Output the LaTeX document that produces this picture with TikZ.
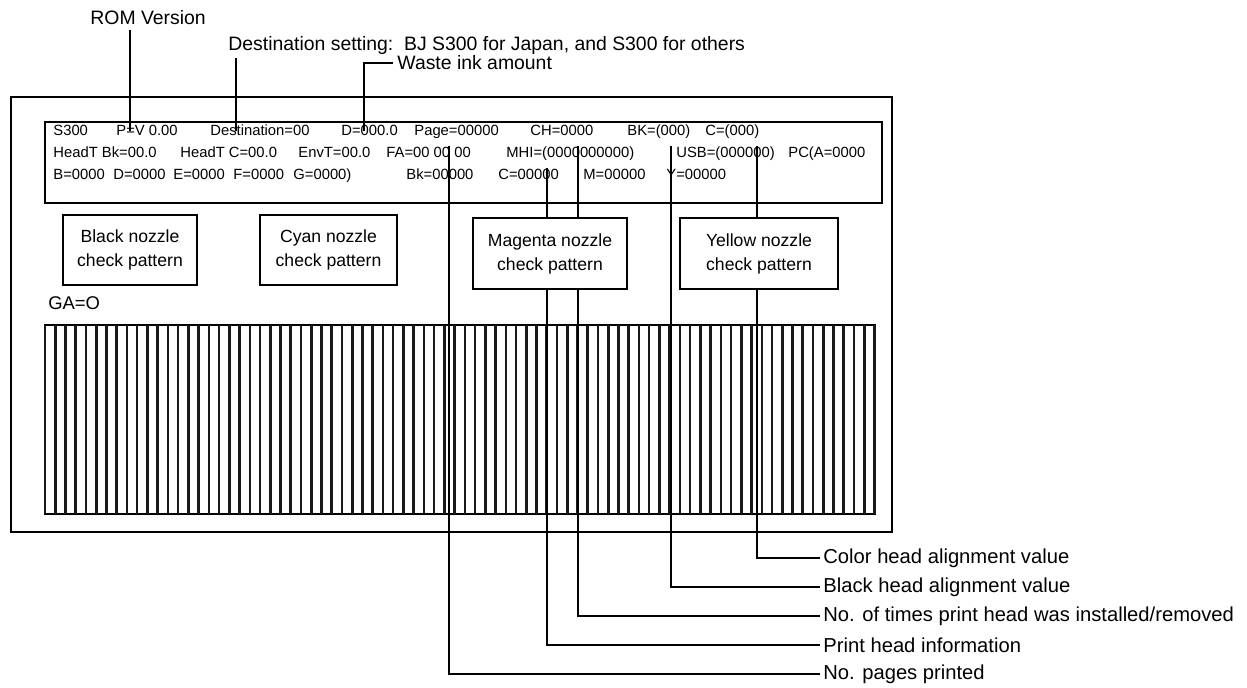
\documentclass[tikz,border=0pt]{standalone}
\usepackage{fontspec}
\setmainfont{Liberation Sans}
\usetikzlibrary{positioning}

\tikzset{
  lbl/.style={font=\fontsize{10.1}{12}\selectfont, anchor=west, inner sep=0pt},
  toplbl/.style={lbl, font=\fontsize{9.7}{12}\selectfont},
  info/.style={font=\fontsize{7.4}{9}\selectfont, anchor=base west, inner sep=0pt},
  nozzlebox/.style={draw, line width=0.55pt, fill=white, align=center, inner sep=1pt,
    font=\fontsize{8.8}{12}\selectfont},
  leader/.style={line width=0.7pt},
  stripe/.style={line width=1.3pt, black!90},
}

\begin{document}
\begin{tikzpicture}[x=0.5pt, y=-0.5pt]
  \useasboundingbox (0,0) rectangle (1247,688);
  % outer frame and status box
  \draw[line width=0.8pt] (11,97) rectangle (892,532);
  \draw[line width=0.7pt] (45,122) rectangle (882,203);
  % status text, one node per field
  \foreach \x/\t in {53/S300, 116/P=V 0.00, 210/Destination=00, 341/D=000.0, 414/Page=00000,
      530/CH=0000, 627/BK=(000), 705/C=(000)}
    \node[info] (rowa-\x) at (\x,136) {\t};
  \foreach \x/\t in {53/HeadT Bk=00.0, 180/HeadT C=00.0, 298/EnvT=00.0, 386/FA=00 00 00,
      506/MHI=(0000000000), 676/USB=(000000), 788/PC(A=0000}
    \node[info] (rowb-\x) at (\x,158) {\t};
  \foreach \x/\t in {53/B=0000, 113/D=0000, 173/E=0000, 233/F=0000, 293/G=0000),
      406/Bk=00000, 498/C=00000, 583/M=00000, 666/Y=00000}
    \node[info] (rowc-\x) at (\x,180) {\t};
  % labels above
  \node[toplbl] (rom) at (90,18) {ROM Version};
  \node[toplbl] (dest) at (228,45) {Destination setting:\ \ BJ S300 for Japan, and S300 for others};
  \node[toplbl] (waste) at (397,63) {Waste ink amount};
  \coordinate (romend) at (130,131);
  \coordinate (destend) at (236,131);
  \coordinate (wasteend) at (364,131);
  \draw[leader] ([yshift=-2pt]rom.south -| romend) -- (romend);
  \draw[leader] ([yshift=-2pt]dest.south -| destend) -- (destend);
  \draw[leader] ([xshift=-2pt]waste.west) -- (waste.west -| wasteend) -- (wasteend);
  % print pattern
  \node[lbl, font=\fontsize{9.2}{11}\selectfont] (ga) at (48,303) {GA=O};
  \draw[line width=0.7pt] (45,325) rectangle (875,514);
  \foreach \i in {0,...,81}
    \draw[stripe] (45+\i*10.24,325) -- (45+\i*10.24,514);
  % labels below
  \node[lbl] (colorlbl) at (823,558) {Color head alignment value};
  \node[lbl] (blacklbl) at (823,587) {Black head alignment value};
  \node[lbl] (mountlbl) at (823,616) {No. of times print head was installed/removed};
  \node[lbl] (headlbl) at (823,645) {Print head information};
  \node[lbl] (pageslbl) at (823,674) {No. pages printed};
  \coordinate (colortop) at (757,146);
  \coordinate (blacktop) at (671,146);
  \coordinate (mounttop) at (578,146);
  \coordinate (headtop) at (547,168);
  \coordinate (pagestop) at (449,146);
  \draw[leader] (colortop) |- ([xshift=-1.5pt]colorlbl.west);
  \draw[leader] (blacktop) |- ([xshift=-1.5pt]blacklbl.west);
  \draw[leader] (mounttop) |- ([xshift=-1.5pt]mountlbl.west);
  \draw[leader] (headtop) |- ([xshift=-1.5pt]headlbl.west);
  \draw[leader] (pagestop) |- ([xshift=-1.5pt]pageslbl.west);
  % nozzle check boxes
  \node[nozzlebox, minimum width=67pt, minimum height=35pt] (blackbox) at (130,250) {Black nozzle\\check pattern};
  \node[nozzlebox, minimum width=68.5pt, minimum height=35pt] (cyanbox) at (328.5,250) {Cyan nozzle\\check pattern};
  \node[nozzlebox, minimum width=77pt, minimum height=35.5pt] (magentabox) at (550,253.5) {Magenta nozzle\\check pattern};
  \node[nozzlebox, minimum width=79pt, minimum height=35.5pt] (yellowbox) at (759,253.5) {Yellow nozzle\\check pattern};
\end{tikzpicture}
\end{document}
